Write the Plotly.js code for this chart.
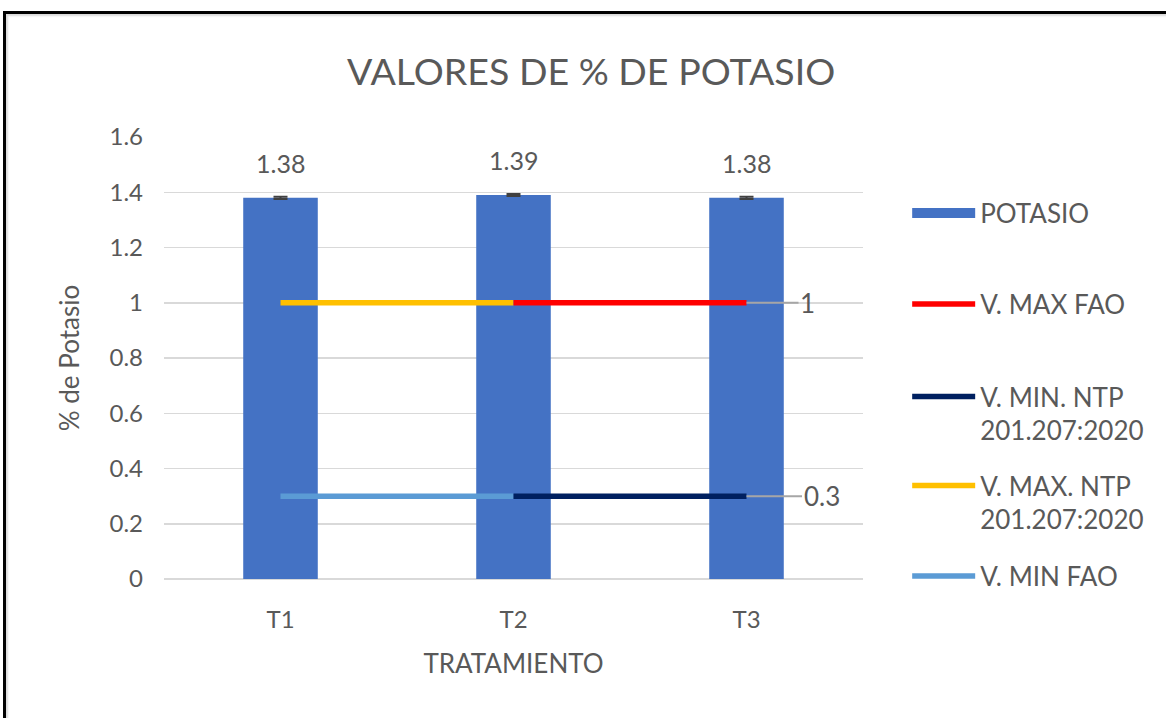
<!DOCTYPE html>
<html>
<head>
<meta charset="utf-8">
<script src="https://cdn.plot.ly/plotly-3.0.1.min.js"></script>
<style>
html,body{margin:0;padding:0;background:#fff;}
#wrap{position:relative;width:1166px;height:718px;overflow:hidden;}
#chart{width:1166px;height:718px;}
#frame{position:absolute;left:3px;top:11px;width:1170px;height:720px;border-top:3px solid #000;border-left:3px solid #000;box-shadow:inset 2px 2px 2px rgba(0,0,0,0.15);pointer-events:none;}
</style>
</head>
<body>
<div id="wrap"><div id="chart"></div><div id="frame"></div></div>
<script>
// ---- data ----
const categories = ['T1', 'T2', 'T3'];
const potasio = [1.38, 1.39, 1.38];
const potasioErr = [0.004, 0.004, 0.004];
const vMaxFao = [null, 1, 1];
const vMinNtp = [null, 0.3, 0.3];
const vMaxNtp = [1, 1, null];
const vMinFao = [0.3, 0.3, null];
const yTicks = [0, 0.2, 0.4, 0.6, 0.8, 1, 1.2, 1.4, 1.6];
const yTickLabels = ['0', '0.2', '0.4', '0.6', '0.8', '1', '1.2', '1.4', '1.6'];
const refLabels = [{cat: 'T3', val: 1, text: '1'}, {cat: 'T3', val: 0.3, text: '0.3'}];

const FONT = 'Lato, "Open Sans", sans-serif';
const GREY = '#595959';

const traces = [
  {type: 'bar', x: categories, y: potasio, width: 0.32, marker: {color: '#4472C4'},
   error_y: {type: 'data', array: potasioErr, visible: true, color: '#404040', thickness: 2, width: 7},
   showlegend: false, hoverinfo: 'skip'},
  {type: 'scatter', mode: 'lines', x: categories, y: vMaxNtp, name: 'V. MAX. NTP<br>201.207:2020',
   line: {color: '#FFC000', width: 5.5}, legend: 'legend4'},
  {type: 'scatter', mode: 'lines', x: categories, y: vMaxFao, name: 'V. MAX FAO',
   line: {color: '#FF0000', width: 5.5}, legend: 'legend2'},
  {type: 'scatter', mode: 'lines', x: categories, y: vMinFao, name: 'V. MIN FAO',
   line: {color: '#5B9BD5', width: 5.5}, legend: 'legend5'},
  {type: 'scatter', mode: 'lines', x: categories, y: vMinNtp, name: 'V. MIN. NTP<br>201.207:2020',
   line: {color: '#002060', width: 5.5}, legend: 'legend3'},
  // legend entry for the bar series (wide swatch)
  {type: 'scatter', mode: 'lines', x: [null], y: [null], name: 'POTASIO',
   line: {color: '#4472C4', width: 14}, legend: 'legend'}
];

const annotations = [];
categories.forEach((c, i) => {
  annotations.push({x: c, y: potasio[i], text: potasio[i].toFixed(2), showarrow: false,
    yanchor: 'middle', yshift: 35, font: {family: FONT, size: 25, color: GREY}});
});
refLabels.forEach((r) => {
  annotations.push({x: r.cat, y: r.val, text: r.text, showarrow: true, arrowhead: 0,
    arrowcolor: '#A6A6A6', arrowwidth: 2, ax: r.text.length === 1 ? 61 : 75, ay: 0, standoff: 0,
    font: {family: FONT, size: 26, color: GREY}});
});

function leg(y) {
  return {x: 1.0632, xanchor: 'left', y: y, yanchor: 'middle', bgcolor: 'rgba(0,0,0,0)',
    font: {family: FONT, size: 26, color: GREY}, itemwidth: 63, valign: 'top'};
}

const layout = {
  width: 1166, height: 718,
  margin: {l: 164, r: 303, t: 137, b: 139},
  paper_bgcolor: '#ffffff', plot_bgcolor: '#ffffff',
  font: {family: FONT, color: GREY},
  title: {text: 'VALORES DE % DE POTASIO', xref: 'container', x: 0.507, xanchor: 'center',
    yref: 'container', y: 0.9, yanchor: 'middle', font: {family: FONT, size: 37.5, color: GREY}},
  xaxis: {type: 'category', categoryarray: categories, showgrid: false, showline: false, zeroline: false,
    ticks: '', tickfont: {family: FONT, size: 24, color: GREY}, ticklabelstandoff: 24,
    title: {text: 'TRATAMIENTO', font: {family: FONT, size: 26, color: GREY}, standoff: 22}},
  yaxis: {range: [0, 1.6], tickvals: yTicks, ticktext: yTickLabels, showgrid: true, gridcolor: '#D9D9D9',
    gridwidth: 1.5, zeroline: true, zerolinecolor: '#D9D9D9', zerolinewidth: 1.5, showline: false, ticks: '',
    tickfont: {family: FONT, size: 24, color: GREY}, ticklabelstandoff: 20,
    title: {text: '% de Potasio', font: {family: FONT, size: 26, color: GREY}, standoff: 22}},
  showlegend: true,
  legend: leg(0.828),
  legend2: leg(0.622),
  legend3: leg(0.3744),
  legend4: leg(0.173),
  legend5: leg(0.0068),
  annotations: annotations,
  bargap: 0.5
};

Plotly.newPlot('chart', traces, layout, {displayModeBar: false, staticPlot: true});
</script>
</body>
</html>
